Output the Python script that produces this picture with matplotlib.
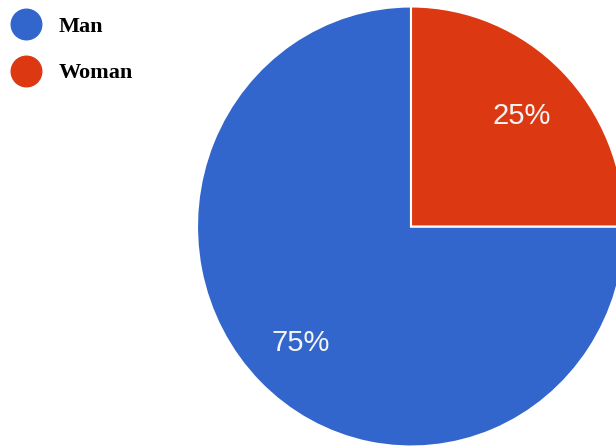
import matplotlib.pyplot as plt
from matplotlib.lines import Line2D

labels = ['Man', 'Woman']
shares = [75, 25]
colors = ['#3366cc', '#dc3912']

W, H = 616, 448
# pie is drawn slightly squashed horizontally (214 px wide radius vs 220 px tall)
XSCALE = 220 / 214

fig = plt.figure(figsize=(W / 100, H / 100), dpi=100)
ax = fig.add_axes([0, 0, 1, 1])

wedges, texts, autotexts = ax.pie(
  shares, colors=colors, startangle=90, counterclock=True,
  center=(411 * XSCALE, H - 226.5), radius=220, frame=True,
  autopct='%d%%', pctdistance=0.73,
  wedgeprops=dict(edgecolor='white', linewidth=1.5),
  textprops=dict(color='#f4f4f4', fontsize=21, family='Liberation Sans'))
for t in autotexts:
  t.set_va('center_baseline')

ax.set_xlim(0, W * XSCALE)
ax.set_ylim(0, H)
ax.set_aspect('auto')
ax.axis('off')

handles = [Line2D([], [], linestyle='none', marker='o', markersize=22,
                  markerfacecolor=c, markeredgecolor=c) for c in colors]
leg = ax.legend(handles, labels, loc='upper left',
                bbox_to_anchor=(-7 / W, 1.0),
                bbox_transform=fig.transFigure, frameon=False,
                prop=dict(family='Liberation Serif', weight='bold', size=16),
                handlelength=1.5, handletextpad=0.75, labelspacing=1.18,
                borderaxespad=0.0, borderpad=0.72)

fig.savefig('out.png', dpi=100)
